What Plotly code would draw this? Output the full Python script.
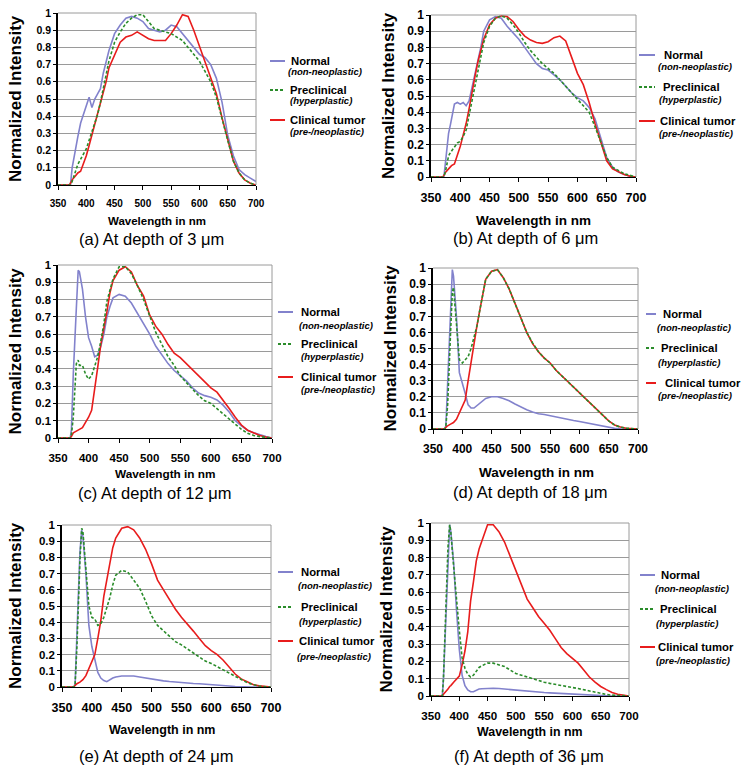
import plotly.graph_objects as go

# ---------------- data ----------------
WAVELENGTH = [350, 360, 370, 372, 375, 380, 383, 385, 390, 395, 400, 405, 410, 415, 420, 425, 430, 435, 440,
              450, 460, 470, 480, 490, 500, 510, 520, 530, 540, 550, 560, 570, 580, 590, 600, 610, 620, 630,
              640, 650, 660, 670, 680, 690, 700]

A_NORMAL = [0, 0, 0, 0, 0.1, 0.2, 0.25, 0.28, 0.36, 0.41, 0.45, 0.51, 0.45, 0.5, 0.53, 0.56, 0.65, 0.72, 0.78,
            0.88, 0.93, 0.97, 0.98, 0.97, 0.95, 0.91, 0.9, 0.89, 0.9, 0.93, 0.92, 0.88, 0.84, 0.8, 0.76, 0.74,
            0.7, 0.62, 0.48, 0.29, 0.17, 0.09, 0.06, 0.04, 0.02]
A_PRE = [0, 0, 0, 0, 0.02, 0.08, 0.1, 0.12, 0.15, 0.18, 0.21, 0.26, 0.31, 0.36, 0.41, 0.48, 0.56, 0.64, 0.72,
         0.83, 0.89, 0.94, 0.97, 0.99, 0.99, 0.95, 0.91, 0.9, 0.89, 0.88, 0.86, 0.84, 0.8, 0.76, 0.72, 0.66,
         0.6, 0.51, 0.38, 0.26, 0.14, 0.07, 0.03, 0.01, 0]
A_CLIN = [0, 0, 0, 0.01, 0.03, 0.05, 0.06, 0.07, 0.08, 0.12, 0.17, 0.23, 0.29, 0.35, 0.42, 0.48, 0.54, 0.6, 0.68,
          0.76, 0.83, 0.86, 0.87, 0.89, 0.87, 0.85, 0.84, 0.84, 0.84, 0.88, 0.93, 0.99, 0.98, 0.9, 0.81, 0.72,
          0.63, 0.53, 0.39, 0.26, 0.14, 0.07, 0.03, 0.01, 0]

B_NORMAL = [0, 0, 0, 0, 0.1, 0.27, 0.32, 0.36, 0.45, 0.46, 0.45, 0.46, 0.44, 0.47, 0.55, 0.63, 0.72, 0.8, 0.9,
            0.97, 0.99, 0.98, 0.93, 0.89, 0.85, 0.8, 0.75, 0.7, 0.67, 0.66, 0.63, 0.6, 0.56, 0.52, 0.49, 0.47,
            0.43, 0.36, 0.24, 0.12, 0.06, 0.03, 0.015, 0.005, 0]
B_PRE = [0, 0, 0, 0, 0.04, 0.13, 0.15, 0.16, 0.19, 0.21, 0.22, 0.25, 0.29, 0.38, 0.49, 0.58, 0.67, 0.75, 0.83,
         0.93, 0.98, 0.995, 0.98, 0.94, 0.89, 0.83, 0.78, 0.74, 0.7, 0.67, 0.64, 0.6, 0.56, 0.52, 0.48, 0.44,
         0.4, 0.31, 0.22, 0.12, 0.06, 0.04, 0.02, 0.01, 0]
B_CLIN = [0, 0, 0, 0.01, 0.03, 0.05, 0.06, 0.07, 0.08, 0.13, 0.19, 0.26, 0.33, 0.42, 0.53, 0.62, 0.71, 0.78, 0.85,
          0.94, 0.98, 0.995, 0.99, 0.96, 0.91, 0.87, 0.845, 0.83, 0.825, 0.835, 0.86, 0.87, 0.84, 0.74, 0.64,
          0.57, 0.46, 0.33, 0.22, 0.1, 0.05, 0.03, 0.015, 0.005, 0]

C_NORMAL = [0, 0, 0, 0.05, 0.37, 0.75, 0.97, 0.96, 0.86, 0.7, 0.58, 0.53, 0.47, 0.48, 0.53, 0.6, 0.7, 0.76, 0.81,
            0.83, 0.82, 0.78, 0.72, 0.66, 0.6, 0.53, 0.48, 0.43, 0.39, 0.36, 0.33, 0.29, 0.26, 0.245, 0.235,
            0.22, 0.19, 0.15, 0.1, 0.07, 0.045, 0.03, 0.018, 0.008, 0]
C_PRE = [0, 0, 0, 0.02, 0.12, 0.43, 0.45, 0.42, 0.42, 0.37, 0.34, 0.36, 0.41, 0.47, 0.56, 0.66, 0.79, 0.86, 0.92,
         0.99, 0.99, 0.95, 0.88, 0.8, 0.7, 0.61, 0.54, 0.47, 0.42, 0.36, 0.32, 0.28, 0.245, 0.215, 0.2, 0.17,
         0.14, 0.11, 0.08, 0.05, 0.028, 0.015, 0.008, 0.003, 0]
C_CLIN = [0, 0, 0, 0.01, 0.03, 0.04, 0.045, 0.05, 0.06, 0.09, 0.12, 0.16, 0.3, 0.41, 0.54, 0.63, 0.73, 0.84, 0.91,
          0.97, 0.99, 0.96, 0.88, 0.82, 0.71, 0.645, 0.6, 0.54, 0.49, 0.465, 0.43, 0.39, 0.36, 0.32, 0.29,
          0.265, 0.22, 0.17, 0.12, 0.075, 0.045, 0.028, 0.015, 0.006, 0]

D_NORMAL = [0, 0, 0, 0.02, 0.3, 0.82, 0.99, 0.95, 0.7, 0.35, 0.29, 0.22, 0.15, 0.13, 0.13, 0.145, 0.16, 0.18,
            0.19, 0.2, 0.2, 0.19, 0.175, 0.155, 0.135, 0.12, 0.105, 0.095, 0.09, 0.082, 0.075, 0.068, 0.06,
            0.053, 0.047, 0.04, 0.033, 0.026, 0.018, 0.01, 0.004, 0.001, 0, 0, 0]
D_PRE = [0, 0, 0, 0.02, 0.15, 0.6, 0.85, 0.88, 0.67, 0.43, 0.41, 0.43, 0.45, 0.5, 0.57, 0.64, 0.74, 0.84, 0.93,
         0.98, 0.99, 0.94, 0.87, 0.78, 0.69, 0.6, 0.535, 0.48, 0.44, 0.41, 0.365, 0.33, 0.29, 0.255, 0.22,
         0.19, 0.15, 0.12, 0.085, 0.05, 0.025, 0.012, 0.005, 0.002, 0]
D_CLIN = [0, 0, 0, 0.01, 0.02, 0.03, 0.035, 0.04, 0.06, 0.1, 0.14, 0.18, 0.3, 0.42, 0.54, 0.64, 0.74, 0.84, 0.93,
          0.98, 0.99, 0.94, 0.87, 0.78, 0.69, 0.6, 0.53, 0.48, 0.44, 0.41, 0.365, 0.33, 0.29, 0.255, 0.22,
          0.19, 0.15, 0.12, 0.085, 0.05, 0.025, 0.012, 0.005, 0.002, 0]

E_NORMAL = [0, 0, 0, 0.02, 0.3, 0.83, 0.97, 0.93, 0.7, 0.38, 0.25, 0.17, 0.09, 0.055, 0.04, 0.033, 0.045, 0.055,
            0.062, 0.068, 0.068, 0.068, 0.062, 0.055, 0.048, 0.042, 0.038, 0.034, 0.03, 0.027, 0.025, 0.022,
            0.02, 0.018, 0.015, 0.012, 0.009, 0.006, 0.003, 0.001, 0, 0, 0, 0, 0]
E_PRE = [0, 0, 0, 0.02, 0.25, 0.78, 0.98, 0.96, 0.75, 0.5, 0.43, 0.42, 0.38, 0.39, 0.43, 0.49, 0.55, 0.63, 0.69,
         0.72, 0.71, 0.66, 0.61, 0.53, 0.44, 0.38, 0.345, 0.31, 0.28, 0.26, 0.235, 0.21, 0.18, 0.16, 0.145,
         0.125, 0.11, 0.09, 0.065, 0.045, 0.027, 0.015, 0.006, 0.002, 0]
E_CLIN = [0, 0, 0, 0.01, 0.02, 0.03, 0.04, 0.045, 0.07, 0.11, 0.16, 0.2, 0.3, 0.41, 0.56, 0.66, 0.76, 0.86, 0.92,
          0.98, 0.99, 0.97, 0.92, 0.85, 0.76, 0.66, 0.6, 0.54, 0.48, 0.43, 0.39, 0.345, 0.3, 0.255, 0.225,
          0.2, 0.165, 0.12, 0.08, 0.05, 0.03, 0.015, 0.007, 0.002, 0]

F_NORMAL = [0, 0, 0, 0.1, 0.35, 0.84, 0.99, 0.95, 0.77, 0.5, 0.27, 0.12, 0.06, 0.035, 0.025, 0.025, 0.035, 0.04,
            0.042, 0.045, 0.045, 0.043, 0.04, 0.035, 0.031, 0.028, 0.026, 0.023, 0.021, 0.02, 0.018, 0.016,
            0.013, 0.011, 0.01, 0.008, 0.006, 0.005, 0.004, 0.002, 0.001, 0, 0, 0, 0]
F_PRE = [0, 0, 0, 0.1, 0.4, 0.86, 0.99, 0.95, 0.75, 0.55, 0.38, 0.22, 0.16, 0.125, 0.11, 0.12, 0.145, 0.165,
         0.175, 0.19, 0.19, 0.18, 0.17, 0.15, 0.13, 0.12, 0.11, 0.097, 0.088, 0.08, 0.073, 0.066, 0.06, 0.055,
         0.049, 0.043, 0.036, 0.028, 0.02, 0.014, 0.009, 0.005, 0.002, 0.001, 0]
F_CLIN = [0, 0, 0, 0.01, 0.02, 0.04, 0.055, 0.06, 0.08, 0.095, 0.115, 0.18, 0.26, 0.37, 0.55, 0.66, 0.78, 0.85,
          0.9, 0.99, 0.99, 0.95, 0.89, 0.81, 0.72, 0.64, 0.56, 0.51, 0.46, 0.42, 0.38, 0.33, 0.28, 0.245, 0.22,
          0.19, 0.15, 0.11, 0.08, 0.055, 0.037, 0.02, 0.01, 0.004, 0]

X_TICKS = [350, 400, 450, 500, 550, 600, 650, 700]
Y_TICKS = [0, 0.1, 0.2, 0.3, 0.4, 0.5, 0.6, 0.7, 0.8, 0.9, 1.0]
Y_TICK_TEXT = ["0", "0.1", "0.2", "0.3", "0.4", "0.5", "0.6", "0.7", "0.8", "0.9", "1"]

SERIES_NAMES = ["Normal", "Preclinical", "Clinical tumor"]
SERIES_SUBS = ["(non-neoplastic)", "(hyperplastic)", "(pre-/neoplastic)"]
CAPTIONS = ["(a) At depth of 3 \u03bcm", "(b) At depth of 6 \u03bcm", "(c) At depth of 12 \u03bcm",
            "(d) At depth of 18 \u03bcm", "(e) At depth of 24 \u03bcm", "(f) At depth of 36 \u03bcm"]
Y_TITLE = "Normalized Intensity"
X_TITLE = "Wavelength in nm"

PANEL_DATA = [
    (A_NORMAL, A_PRE, A_CLIN),
    (B_NORMAL, B_PRE, B_CLIN),
    (C_NORMAL, C_PRE, C_CLIN),
    (D_NORMAL, D_PRE, D_CLIN),
    (E_NORMAL, E_PRE, E_CLIN),
    (F_NORMAL, F_PRE, F_CLIN),
]

# ---------------- layout / style ----------------
W, H = 743, 774
FONT = "Liberation Sans, Arial, sans-serif"
COLORS = ["#8282cc", "#2a8c2a", "#e81c1c"]
DASHES = ["solid", "3px,2px", "solid"]
DRAW_ORDER = [0, 2, 1]

# box = (x_left, x_right, y_top, y_bottom) in pixels
PANELS = [
    dict(box=(58, 256, 13, 185), xt=10, yt=10.5, xtitle=(157, 221, 11.5), cap=(151, 239), ytx=15,
         leg=dict(lx=(270, 285), ly=(61, 90, 120), tx=(290, 289, 289), sx=(287, 289, 289), sy=(71, 101, 132))),
    dict(box=(431, 636, 15, 177), xt=12.5, yt=12, xtitle=(533, 220, 13.5), cap=(525, 238), ytx=388,
         leg=dict(lx=(639, 655), ly=(55, 87, 121), tx=(663, 662, 659), sx=(657, 658, 658), sy=(66, 100, 133))),
    dict(box=(58, 272, 265, 438), xt=11.5, yt=11.3, xtitle=(165, 474, 11.8), cap=(155, 493), ytx=15,
         leg=dict(lx=(278, 293), ly=(312, 344, 377), tx=(300, 300, 300), sx=(298, 300, 300), sy=(325, 356, 389))),
    dict(box=(433, 638, 268, 429), xt=12, yt=12, xtitle=(536, 472, 13.5), cap=(530, 492), ytx=390,
         leg=dict(lx=(646, 656), ly=(314, 348, 383), tx=(662, 660, 664), sx=(656, 657, 657), sy=(327, 362, 395))),
    dict(box=(62, 271, 525, 687), xt=12.5, yt=11.5, xtitle=(162, 730, 12.5), cap=(156, 756), ytx=15,
         leg=dict(lx=(278, 293), ly=(572, 607, 641), tx=(300, 300, 298), sx=(297, 298, 296), sy=(585, 621, 656))),
    dict(box=(431, 629, 523, 696), xt=11.6, yt=11.5, xtitle=(530, 732, 12.4), cap=(529, 756), ytx=386,
         leg=dict(lx=(640, 655), ly=(575, 609, 647), tx=(660, 659, 657), sx=(654, 655, 655), sy=(588, 623, 660))),
]


def fx(p):
    return p / W


def fy(p):
    return 1 - p / H


fig = go.Figure()
layout = dict(width=W, height=H, margin=dict(l=0, r=0, t=0, b=0, pad=0), paper_bgcolor="white",
              plot_bgcolor="white", showlegend=False, font=dict(family=FONT, color="black"))
annotations = []
shapes = []

for i, (p, data) in enumerate(zip(PANELS, PANEL_DATA)):
    n = "" if i == 0 else str(i + 1)
    x0, x1, y0, y1 = p["box"]
    for k in DRAW_ORDER:
        fig.add_trace(go.Scatter(x=WAVELENGTH, y=data[k], mode="lines", name=SERIES_NAMES[k],
                                 line=dict(color=COLORS[k], width=1.6, dash=DASHES[k]),
                                 xaxis="x" + n, yaxis="y" + n, hoverinfo="skip"))
    layout["xaxis" + n] = dict(domain=[fx(x0), fx(x1)], anchor="y" + n, range=[350, 700], tickvals=X_TICKS,
                               ticks="outside", ticklen=4, tickcolor="black", tickwidth=1, automargin=False,
                               showline=True, linecolor="black", linewidth=1, showgrid=False, zeroline=False,
                               tickfont=dict(size=p["xt"], family=FONT, color="black", weight="bold"),
                               ticklabelstandoff=5)
    layout["yaxis" + n] = dict(domain=[fy(y1), fy(y0)], anchor="x" + n, range=[0, 1], tickvals=Y_TICKS,
                               ticktext=Y_TICK_TEXT, ticks="outside", ticklen=3, tickcolor="black",
                               automargin=False,
                               showline=True, linecolor="black", linewidth=1.5, showgrid=True,
                               gridcolor="#9a9a9a", gridwidth=1, zeroline=False,
                               tickfont=dict(size=p["yt"], family=FONT, color="black", weight="bold"))
    # right & top border
    shapes.append(dict(type="line", xref="x" + n + " domain", yref="y" + n + " domain", x0=1, x1=1, y0=0, y1=1,
                       line=dict(color="#9a9a9a", width=1)))
    shapes.append(dict(type="line", xref="x" + n + " domain", yref="y" + n + " domain", x0=0, x1=1, y0=1, y1=1,
                       line=dict(color="#9a9a9a", width=1)))
    # y title
    annotations.append(dict(text="<b>" + Y_TITLE + "</b>", x=fx(p["ytx"]), y=fy((y0 + y1) / 2),
                            xref="paper", yref="paper", textangle=-90, showarrow=False,
                            font=dict(size=17, family=FONT, color="black"), xanchor="center", yanchor="middle"))
    # x title
    xtx, xty, xts = p["xtitle"]
    annotations.append(dict(text="<b>" + X_TITLE + "</b>", x=fx(xtx), y=fy(xty), xref="paper", yref="paper",
                            showarrow=False, font=dict(size=xts, family=FONT, color="black"),
                            xanchor="center", yanchor="middle"))
    # caption
    cx, cy = p["cap"]
    annotations.append(dict(text=CAPTIONS[i], x=fx(cx), y=fy(cy), xref="paper", yref="paper", showarrow=False,
                            font=dict(size=16.5, family=FONT, color="black"), xanchor="center",
                            yanchor="middle"))
    # legend
    lg = p["leg"]
    for k in range(3):
        ly = lg["ly"][k]
        shapes.append(dict(type="line", xref="paper", yref="paper", x0=fx(lg["lx"][0]), x1=fx(lg["lx"][1]),
                           y0=fy(ly), y1=fy(ly), line=dict(color=COLORS[k], width=2, dash=DASHES[k])))
        annotations.append(dict(text="<b>" + SERIES_NAMES[k] + "</b>", x=fx(lg["tx"][k]), y=fy(ly),
                                xref="paper", yref="paper", showarrow=False, xanchor="left", yanchor="middle",
                                font=dict(size=11.3, family=FONT, color="black"), borderpad=0))
        annotations.append(dict(text="<b><i>" + SERIES_SUBS[k] + "</i></b>", x=fx(lg["sx"][k]),
                                y=fy(lg["sy"][k]), xref="paper", yref="paper", showarrow=False,
                                xanchor="left", yanchor="middle",
                                font=dict(size=9.5, family=FONT, color="black"), borderpad=0))

layout["annotations"] = annotations
layout["shapes"] = shapes
fig.update_layout(**layout)
fig.write_html("out.html", config={"displayModeBar": False},
               post_script="document.body.style.margin='0px';")
